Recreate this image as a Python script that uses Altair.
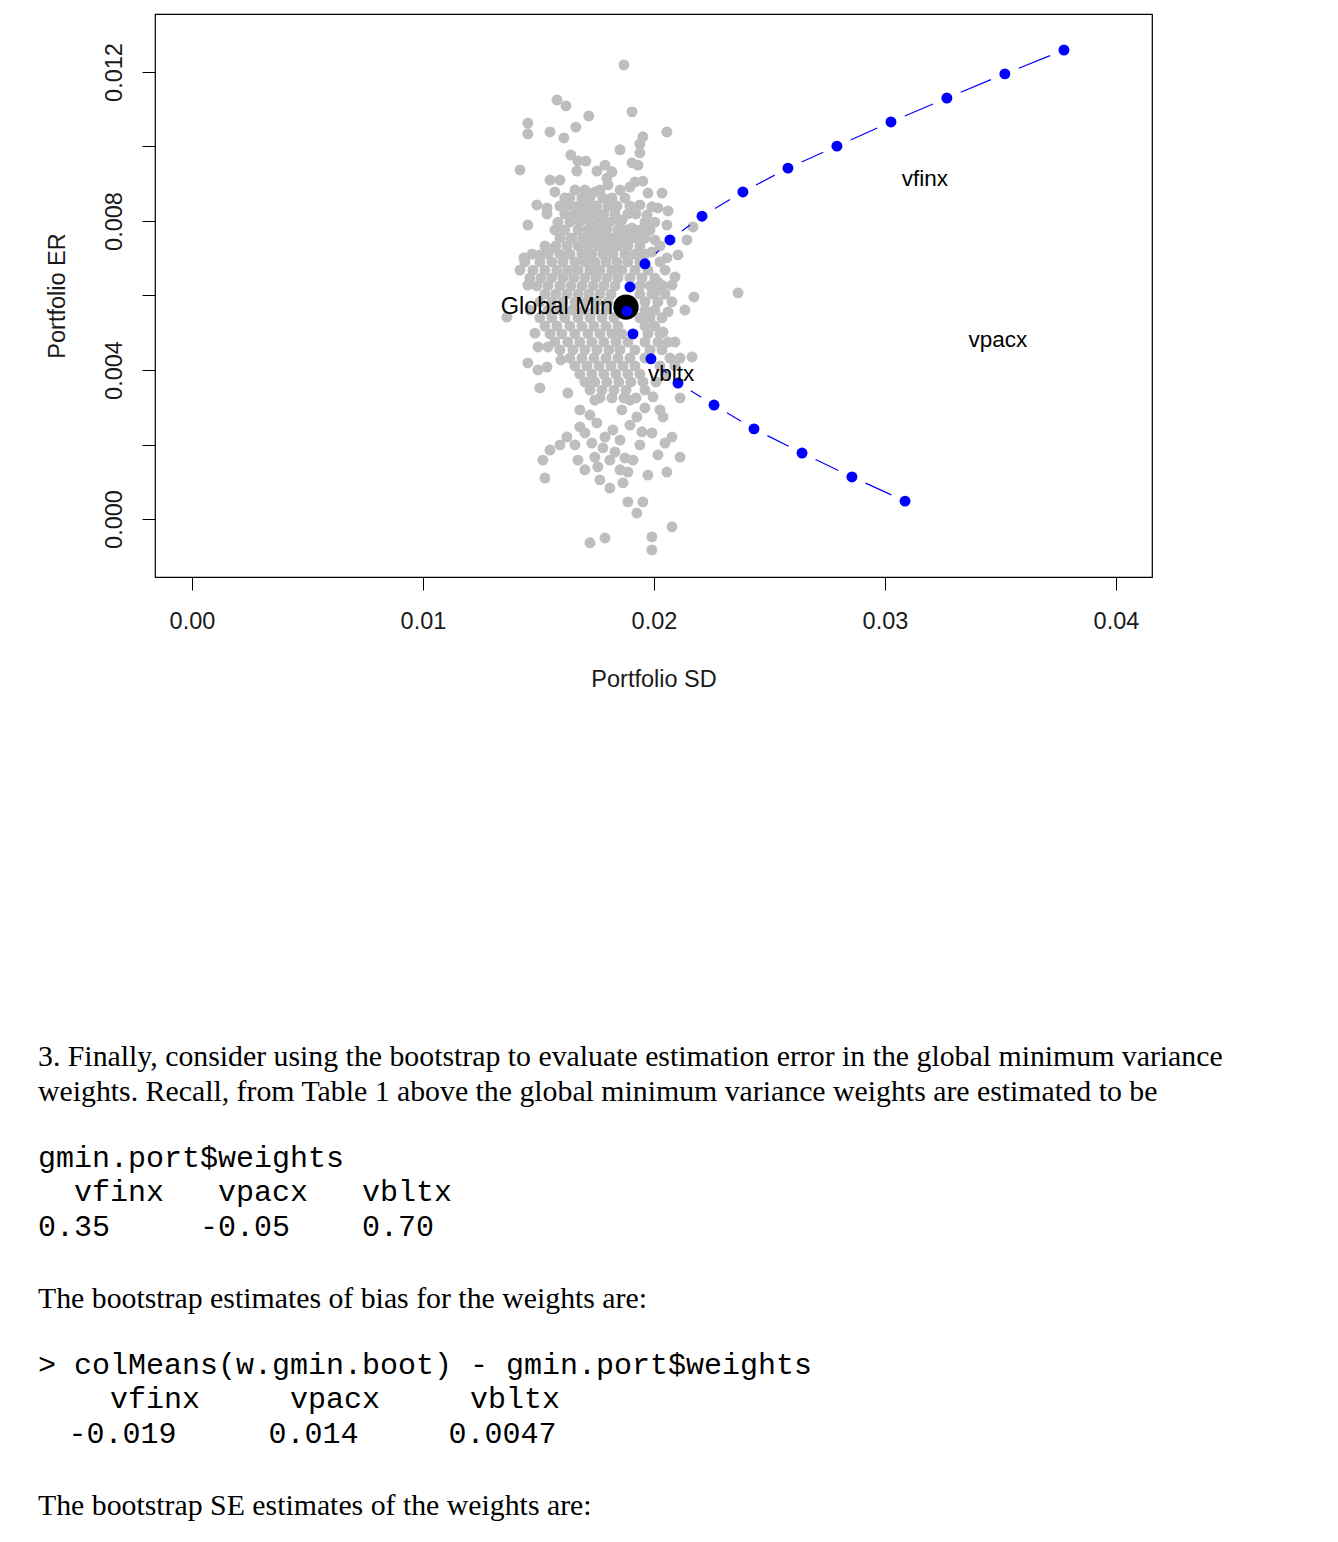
import math
import altair as alt
import pandas as pd

# ---------------- data ----------------
# bootstrap portfolios (scattered part), SD and ER in per-mille
boot_sd = [18.70, 15.80, 16.19, 19.05, 17.18, 14.54, 14.54, 15.50, 16.10, 16.62,
           20.56, 19.52, 19.39, 18.53, 19.39, 16.40, 14.20, 16.71, 17.05, 16.66,
           17.88, 17.53, 18.18, 17.96, 15.50, 15.93, 19.05, 19.31, 18.01, 15.71,
           17.44, 18.18, 16.14, 19.18, 19.52, 18.96, 19.74, 20.35, 14.93, 15.37,
           15.37, 16.36, 19.39, 19.91, 20.17, 20.61, 19.70, 18.61, 14.54, 16.45,
           20.56, 19.05, 19.26, 20.04, 21.43, 21.69, 14.37, 15.06, 15.50, 21.04,
           20.56, 19.91, 14.54, 20.91, 20.17, 20.78, 21.73, 23.64, 20.04, 13.63,
           14.85, 20.61, 21.34, 20.39, 14.98, 15.41, 14.54, 14.98, 15.37, 15.97,
           20.91, 21.65, 15.06, 16.27, 17.01, 16.79, 17.44, 19.96, 21.13, 18.61,
           17.53, 16.79, 17.01, 16.23, 18.22, 17.88, 20.39, 19.26, 19.48, 19.91,
           20.78, 15.93, 15.50, 15.19, 16.71, 17.31, 17.44, 17.57, 18.09, 20.48,
           21.13, 20.17, 15.28, 18.09, 18.87, 19.74, 20.56, 18.66, 18.87, 19.52,
           19.26, 20.78, 17.23, 17.88, 19.91, 19.91, 17.23, 17.79, 18.31, 18.53,
           18.96, 18.74, 17.01, 16.58, 19.39, 19.09, 18.53, 17.66, 19.61, 18.96,
           20.26]
boot_er = [12.19, 11.25, 11.09, 10.93, 10.82, 10.63, 10.34, 10.39, 10.23, 10.52,
           10.39, 10.26, 10.07, 9.91, 9.83, 9.77, 9.37, 9.61, 9.61, 9.34,
           9.50, 9.34, 9.32, 9.15, 9.10, 9.10, 9.56, 9.50, 8.97, 8.78,
           8.78, 8.62, 8.62, 9.05, 9.07, 8.91, 8.75, 8.75, 8.43, 8.35,
           8.19, 8.43, 8.43, 8.38, 8.35, 8.27, 8.16, 8.03, 7.89, 7.54,
           7.89, 7.81, 7.57, 7.49, 7.49, 7.84, 7.01, 7.09, 7.22, 7.09,
           7.01, 7.17, 6.28, 6.50, 6.36, 6.28, 5.96, 6.07, 6.09, 5.42,
           4.99, 5.56, 5.61, 5.02, 4.62, 4.62, 4.19, 4.00, 4.08, 4.27,
           4.75, 4.35, 3.52, 3.38, 3.68, 2.93, 3.19, 3.28, 3.25, 2.93,
           2.58, 2.47, 2.31, 2.20, 2.39, 2.20, 2.74, 2.74, 2.34, 2.31,
           2.20, 1.99, 1.85, 1.58, 1.58, 2.04, 1.66, 1.40, 1.58, 2.04,
           1.66, 1.72, 1.10, 0.83, 1.26, 1.18, 1.26, 0.97, 0.46, 0.46,
           0.16, -0.21, -0.64, -0.51, -0.48, -0.83, 2.79, 1.91, 1.80, 2.12,
           2.52, 1.64, 1.32, 1.99, 1.99, 1.58, 1.32, 1.05, 2.98, 3.19,
           2.93]

# dense core of the cloud, read row by row (ER per-mille -> SD per-mille values)
core_er = [8.83, 8.62, 8.40, 8.19, 7.97, 7.76, 7.54, 7.33, 7.11, 6.90, 6.68, 6.47,
           6.26, 6.04, 5.83, 5.61, 5.40, 5.18, 4.97, 4.75, 4.54, 4.32, 4.11, 3.89,
           3.68, 3.46, 3.25]
core_sd = [
    [16.58, 17.01, 17.66, 18.53],
    [16.36, 16.88, 17.23, 17.79, 18.74],
    [15.93, 16.71, 17.10, 17.53, 18.01, 18.40, 18.96],
    [16.14, 16.58, 17.01, 17.40, 17.83, 18.31, 18.87, 19.22],
    [15.84, 16.36, 16.79, 17.23, 17.66, 18.09, 18.53, 19.61, 20.04],
    [15.71, 16.14, 16.71, 17.14, 17.53, 17.96, 18.44, 18.83, 19.39, 19.83],
    [15.93, 16.40, 16.92, 17.31, 17.75, 18.18, 18.61, 19.05, 19.61],
    [15.28, 15.75, 16.23, 16.71, 17.14, 17.57, 18.01, 18.44, 18.87, 19.39, 20.26],
    [14.72, 15.41, 15.93, 16.36, 16.88, 17.31, 17.79, 18.22, 18.74, 19.18, 19.61],
    [14.41, 15.06, 15.58, 16.06, 16.58, 17.01, 17.44, 17.92, 18.40, 18.87, 19.39, 20.26],
    [14.20, 14.76, 15.28, 15.80, 16.27, 16.71, 17.23, 17.66, 18.18, 18.61, 19.18, 19.74, 20.48],
    [14.63, 15.11, 15.58, 16.06, 16.53, 17.01, 17.49, 17.96, 18.44, 18.96, 19.48, 20.04],
    [14.93, 15.41, 15.93, 16.40, 16.88, 17.36, 17.83, 18.31, 19.39, 19.83, 20.39],
    [15.28, 15.75, 16.23, 16.71, 17.18, 17.66, 18.14, 19.39, 19.91, 20.48],
    [15.06, 15.58, 16.06, 16.58, 17.05, 17.53, 18.01, 19.61, 20.17, 20.78],
    [14.63, 15.41, 15.93, 16.45, 16.97, 17.44, 17.92, 19.61, 20.04],
    [15.06, 15.58, 16.14, 16.71, 17.23, 17.75, 18.27, 19.39, 19.83, 20.35],
    [15.28, 15.80, 16.36, 16.88, 17.40, 17.92, 18.44, 19.61, 20.04],
    [15.50, 16.01, 16.58, 17.14, 17.66, 18.18, 18.61, 19.74, 20.26],
    [15.71, 16.27, 16.79, 17.31, 17.83, 18.35, 18.87, 19.61, 20.17, 20.61],
    [15.93, 16.49, 17.01, 17.53, 18.05, 18.53, 19.18, 19.83, 20.35],
    [16.36, 16.88, 17.40, 17.92, 18.44, 18.96, 19.61, 20.69, 21.13],
    [16.58, 17.10, 17.62, 18.14, 18.66, 19.18, 20.26, 20.91],
    [16.79, 17.31, 17.83, 18.35, 18.87, 19.39, 20.48],
    [17.44, 17.96, 18.48, 19.00, 19.52, 20.09],
    [17.23, 17.75, 18.27, 18.79, 19.61],
    [17.66, 18.18, 18.70, 19.22],
]

# efficient frontier points
front_sd = [0.03775, 0.03519, 0.03268, 0.03026, 0.02792, 0.02580, 0.02385, 0.02208,
            0.02069, 0.01961, 0.01896, 0.01883, 0.01909, 0.01987, 0.02104, 0.02260,
            0.02433, 0.02641, 0.02857, 0.03087]
front_er = [0.01259, 0.01195, 0.01130, 0.01066, 0.01001, 0.00942, 0.00878, 0.00813,
            0.00749, 0.00685, 0.00623, 0.00558, 0.00497, 0.00430, 0.00365, 0.00306,
            0.00242, 0.00177, 0.00113, 0.00048]

gmin_sd = [0.01879]
gmin_er = [0.00569]
gmin_label = ["Global Min"]

asset_names = ["vfinx", "vpacx", "vbltx"]
asset_sd = [0.03173, 0.03489, 0.02074]
asset_er = [0.009128, 0.004805, 0.003893]

x_ticks = [0.00, 0.01, 0.02, 0.03, 0.04]
y_ticks = [0.000, 0.002, 0.004, 0.006, 0.008, 0.010, 0.012]

# document text under the figure
doc_row = [0, 1, 3, 4, 4, 4, 5, 5, 5, 7, 9, 10, 10, 10, 11, 11, 11, 13]
doc_col = [0, 0, 0, 2, 10, 18, 0, 9, 18, 0, 0, 4, 14, 24, 1.7, 12.8, 22.8, 0]
doc_kind = ["serif", "serif", "mono", "mono", "mono", "mono", "mono", "mono", "mono",
            "serif", "mono", "mono", "mono", "mono", "mono", "mono", "mono", "serif"]
doc_text = [
    "3. Finally, consider using the bootstrap to evaluate estimation error in the global minimum variance",
    "weights. Recall, from Table 1 above the global minimum variance weights are estimated to be",
    "gmin.port$weights",
    "vfinx", "vpacx", "vbltx",
    "0.35", "-0.05", "0.70",
    "The bootstrap estimates of bias for the weights are:",
    "> colMeans(w.gmin.boot) - gmin.port$weights",
    "vfinx", "vpacx", "vbltx",
    "-0.019", "0.014", "0.0047",
    "The bootstrap SE estimates of the weights are:",
]

# ---------------- layout parameters ----------------
W, H = 997, 563
X_DOM = [-0.0016, 0.04156]
Y_DOM = [-0.001557, 0.013557]
FONT = "Liberation Sans"
FS = 23.5

# ---------------- tables ----------------
sd_all = [v / 1000 for v in boot_sd]
er_all = [v / 1000 for v in boot_er]
for er_v, row in zip(core_er, core_sd):
    for s in row:
        sd_all.append(s / 1000)
        er_all.append(er_v / 1000)
boot_df = pd.DataFrame({"sd": sd_all, "er": er_all})
front_df = pd.DataFrame({"sd": front_sd, "er": front_er})
gmin_df = pd.DataFrame({"sd": gmin_sd, "er": gmin_er, "label": gmin_label})
asset_df = pd.DataFrame({"sd": asset_sd, "er": asset_er, "label": asset_names})

# frontier drawn like R type="b": line segments with a gap around each point
px_sd = W / (X_DOM[1] - X_DOM[0])
px_er = H / (Y_DOM[1] - Y_DOM[0])
GAP = 15
segs = []
for i in range(len(front_sd) - 1):
    x1, y1, x2, y2 = front_sd[i], front_er[i], front_sd[i + 1], front_er[i + 1]
    L = math.hypot((x2 - x1) * px_sd, (y2 - y1) * px_er)
    if L > 2 * GAP + 1:
        t = GAP / L
        segs.append({"sd": x1 + t * (x2 - x1), "er": y1 + t * (y2 - y1),
                     "sd2": x2 - t * (x2 - x1), "er2": y2 - t * (y2 - y1)})
seg_df = pd.DataFrame(segs)

xenc = alt.X("sd:Q", scale=alt.Scale(domain=X_DOM, nice=False, zero=False),
             axis=alt.Axis(values=x_ticks, format=".2f", title="Portfolio SD",
                           tickSize=13, labelPadding=19, titlePadding=35,
                           labelOverlap=False, labelFlush=False))
yenc = alt.Y("er:Q", scale=alt.Scale(domain=Y_DOM, nice=False, zero=False),
             axis=alt.Axis(values=y_ticks, title="Portfolio ER",
                           labelExpr="round(datum.value*1000) % 4 == 0 ? format(datum.value, '.3f') : ''",
                           labelAngle=270, labelAlign="center", labelBaseline="alphabetic",
                           tickSize=13, labelPadding=21, titlePadding=33,
                           labelOverlap=False, labelFlush=False))

cloud = alt.Chart(boot_df).mark_circle(size=120, color="#BEBEBE", opacity=1).encode(x=xenc, y=yenc)
lines = alt.Chart(seg_df).mark_rule(color="#0000FF", strokeWidth=1.2).encode(
    x=xenc, y=yenc, x2="sd2:Q", y2="er2:Q")
gmin_pt = alt.Chart(gmin_df).mark_circle(size=640, color="black", opacity=1).encode(x=xenc, y=yenc)
front_pts = alt.Chart(front_df).mark_circle(size=120, color="#0000FF", opacity=1).encode(x=xenc, y=yenc)
gmin_txt = alt.Chart(gmin_df).mark_text(align="right", baseline="middle", dx=-13,
                                        font=FONT, fontSize=FS, color="black").encode(
    x=xenc, y=yenc, text="label:N")
asset_txt = alt.Chart(asset_df).mark_text(align="center", baseline="middle",
                                          font=FONT, fontSize=FS - 1, color="black").encode(
    x=xenc, y=yenc, text="label:N")

plot = alt.layer(cloud, lines, gmin_pt, front_pts, gmin_txt, asset_txt).properties(
    width=W, height=H, view=alt.ViewBackground(stroke="black", strokeWidth=1.2))

doc_df = pd.DataFrame({"row": doc_row, "col": doc_col, "kind": doc_kind, "text": doc_text})
dx_enc = alt.X("col:Q", scale=alt.Scale(domain=[0, 60], range=[-117, 963]), axis=None)
dy_enc = alt.Y("row:Q", scale=alt.Scale(domain=[-0.5, 13.5], reverse=True, nice=False, zero=False),
               axis=None)
serif_txt = alt.Chart(doc_df).transform_filter(alt.datum.kind == "serif").mark_text(
    align="left", baseline="middle", font="Liberation Serif", fontSize=29.8, color="black").encode(
    x=dx_enc, y=dy_enc, text="text:N")
mono_txt = alt.Chart(doc_df).transform_filter(alt.datum.kind == "mono").mark_text(
    align="left", baseline="middle", dy=-3, font="Liberation Mono", fontSize=30, color="black").encode(
    x=dx_enc, y=dy_enc, text="text:N")
doc = alt.layer(serif_txt, mono_txt).properties(
    width=W, height=483, view=alt.ViewBackground(stroke="transparent"))

chart = alt.vconcat(plot, doc, spacing=347).properties(
    padding={"left": 29, "top": 5, "right": 5, "bottom": 5}
).configure_axis(
    labelFont=FONT, titleFont=FONT, labelFontSize=FS, titleFontSize=FS,
    titleFontWeight="normal", labelColor="#1a1a1a", titleColor="#1a1a1a",
    tickColor="black", domain=False, grid=False
).configure_view(stroke="transparent")

chart.save("out.html", embed_options={"renderer": "svg", "actions": False})
